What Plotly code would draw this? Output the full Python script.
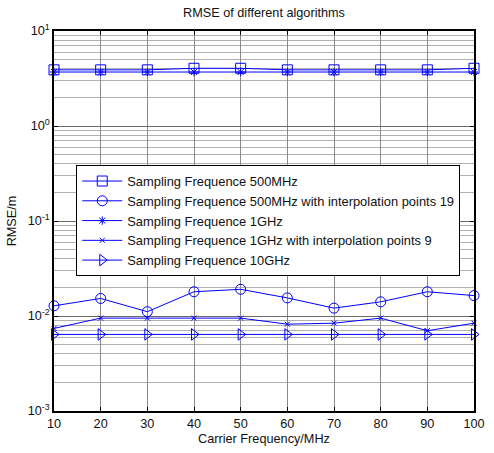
import plotly.graph_objects as go

freq = [10, 20, 30, 40, 50, 60, 70, 80, 90, 100]
rmse_500M = [3.9, 3.9, 3.9, 4.05, 4.05, 3.9, 3.9, 3.9, 3.9, 4.05]
rmse_500M_interp19 = [0.0128, 0.0153, 0.0111, 0.018, 0.0191, 0.0155, 0.0121, 0.0141, 0.018, 0.0164]
rmse_1G = [3.7, 3.7, 3.7, 3.7, 3.7, 3.7, 3.7, 3.7, 3.7, 3.7]
rmse_1G_interp9 = [0.0074, 0.0095, 0.0095, 0.0095, 0.0095, 0.0082, 0.0084, 0.0095, 0.0070, 0.0084]
rmse_10G = [0.0064, 0.0064, 0.0064, 0.0064, 0.0064, 0.0064, 0.0064, 0.0064, 0.0064, 0.0064]

names = [
    "Sampling Frequence 500MHz",
    "Sampling Frequence 500MHz with interpolation points 19",
    "Sampling Frequence 1GHz",
    "Sampling Frequence 1GHz with interpolation points 9",
    "Sampling Frequence 10GHz",
]
series = [rmse_500M, rmse_500M_interp19, rmse_1G, rmse_1G_interp9, rmse_10G]
symbols = ["square-open", "circle-open", "asterisk-open", "x-thin-open", "triangle-right-open"]
sizes = [10, 10, 7, 5, 10]

y_tickvals = [1e-3, 1e-2, 1e-1, 1, 10]
y_ticktext = ["10<sup>-3</sup>", "10<sup>-2</sup>", "10<sup>-1</sup>", "10<sup>0</sup>", "10<sup>1</sup>"]

fig = go.Figure()
for name, ys, sym, sz in zip(names, series, symbols, sizes):
    fig.add_trace(go.Scatter(
        x=freq, y=ys, name=name, mode="lines+markers",
        line=dict(color="#0000ff", width=1),
        marker=dict(symbol=sym, size=sz, color="#0000ff", line=dict(color="#0000ff", width=1)),
        cliponaxis=False,
    ))

font = dict(family="Liberation Sans, Arial", size=12.7, color="#111")
fig.update_layout(
    width=494, height=453,
    margin=dict(l=54, r=9, t=31, b=42),
    paper_bgcolor="white", plot_bgcolor="white",
    font=font,
    title=dict(text="RMSE of different algorithms", x=0.5, xref="paper", xanchor="center",
               y=1 - 13 / 453, yanchor="middle", font=dict(size=12.7, color="#111")),
    showlegend=True,
    legend=dict(x=0.053, y=0.647, xanchor="left", yanchor="top",
                bgcolor="white", bordercolor="black", borderwidth=1,
                font=dict(size=12.9, color="#111"), tracegroupgap=0,
                itemwidth=40),
    xaxis=dict(
        range=[10, 100], tickvals=freq, ticks="inside", ticklen=4, tickcolor="black",
        showline=True, linecolor="black", linewidth=1.5, mirror="ticks",
        showgrid=True, gridcolor="#8a8a8a", gridwidth=1, zeroline=False,
        title=dict(text="Carrier Frequency/MHz", standoff=4, font=dict(size=12.7)),
    ),
    yaxis=dict(
        type="log", range=[-3, 1], tickvals=y_tickvals, ticktext=y_ticktext,
        ticks="inside", ticklen=4, tickcolor="black",
        showline=True, linecolor="black", linewidth=1.5, mirror="ticks",
        showgrid=True, gridcolor="#6a6a6a", gridwidth=1, zeroline=False,
        minor=dict(dtick="D1", showgrid=True, gridcolor="#b0b0b0", gridwidth=1, ticks=""),
        title=dict(text="RMSE/m", standoff=8, font=dict(size=12.7)),
    ),
)

fig.write_html("out.html")
